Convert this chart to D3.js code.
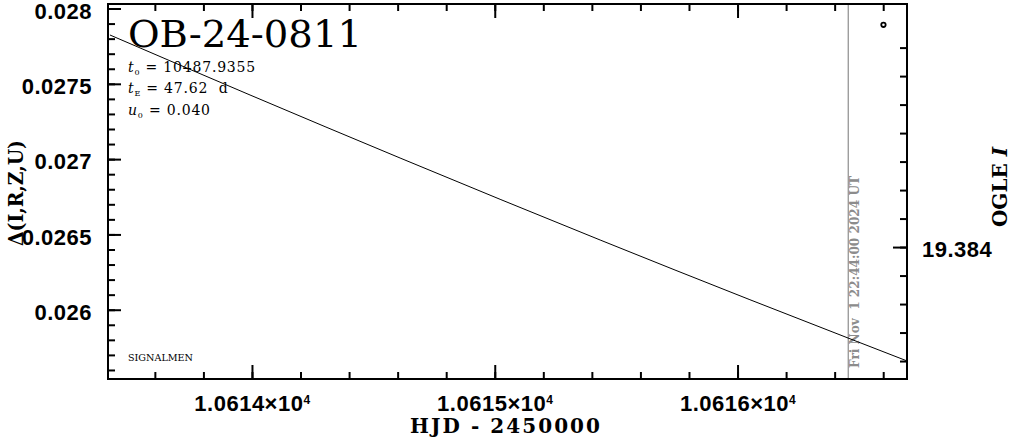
<!DOCTYPE html>
<html>
<head>
<meta charset="utf-8">
<script src="https://cdn.jsdelivr.net/npm/d3@7"></script>
<style>
  html, body { margin: 0; padding: 0; background: #fff; }
  svg { display: block; }
  .num { font-family: "Liberation Sans", Arial, sans-serif; font-weight: bold; font-size: 22px; letter-spacing: 0.5px; fill: #000; }
  .lab { font-family: "DejaVu Serif", serif; font-weight: bold; fill: #000; }
</style>
</head>
<body>
<svg id="chart" width="1011" height="437"></svg>
<script>
// ---- data ----
const title = "OB-24-0811";
const xLabel = "HJD - 2450000";
const yLabel = "Δ(I,R,Z,U)";
const y2Label = "OGLE ";
const y2LabelItalic = "I";
const params = [
  { sym: "t", sub: "0", text: " = 10487.9355" },
  { sym: "t", sub: "E", text: " = 47.62  d" },
  { sym: "u", sub: "0", text: " = 0.040" }
];
const footer = "SIGNALMEN";
const dateLabel = "Fri Nov  1 22:44:00 2024 UT";
const nowHJD = 10616.456;

// model curve (HJD-2450000, value)
const modelT = [10613.415, 10613.992, 10614.610, 10615.434, 10616.051, 10616.476, 10616.698];
const modelV = [0.0278242, 0.0274258, 0.0270074, 0.026463, 0.0260665, 0.025799, 0.02566];

// OGLE I data point (HJD-2450000, mag)
const obsT = [10616.601];
const obsMag = [19.3762];

// ticks
const xMajorTicks = [10614, 10615, 10616];
const xTickMantissa = ["1.0614", "1.0615", "1.0616"];
const xMinorTicks = d3.range(10613.6, 10616.61, 0.2).map(v => +v.toFixed(1));
const yMajorTicks = [0.026, 0.0265, 0.027, 0.0275, 0.028];
const yTickLabels = ["0.026", "0.0265", "0.027", "0.0275", "0.028"];
const yMinorTicks = d3.range(25.6, 28.01, 0.1).map(v => +(v / 1000).toFixed(4));
const y2MajorTicks = [19.384];
const y2TickLabels = ["19.384"];
const y2MinorTicks = d3.range(19377, 19388.5, 1).map(v => v / 1000);

// ---- layout ----
const L = 108, R = 907, T = 4, B = 379;
const svg = d3.select("#chart");

const x = d3.scaleLinear().domain([10613.407, 10616.698]).range([L, R]);
const y = d3.scaleLinear().domain([0.02554, 0.02803]).range([B, T]);
const y2 = d3.scaleLinear().domain([19.37547, 19.38863]).range([T, B]);

// clip
svg.append("defs").append("clipPath").attr("id", "clip")
  .append("rect").attr("x", L).attr("y", T).attr("width", R - L).attr("height", B - T);

// "now" vertical line
svg.append("line")
  .attr("x1", x(nowHJD)).attr("x2", x(nowHJD))
  .attr("y1", T).attr("y2", B)
  .attr("stroke", "#8c8c8c").attr("stroke-width", 1.2);

svg.append("text")
  .attr("class", "lab")
  .attr("transform", `translate(${x(nowHJD) + 11},368) rotate(-90)`)
  .attr("font-size", 12)
  .attr("textLength", 192).attr("lengthAdjust", "spacingAndGlyphs")
  .attr("xml:space", "preserve")
  .style("white-space", "pre")
  .attr("fill", "#8c8c8c")
  .style("fill", "#8c8c8c")
  .text(dateLabel);

// model line
const line = d3.line().x(d => x(d[0])).y(d => y(d[1])).curve(d3.curveMonotoneX);
svg.append("path")
  .datum(modelT.map((t, i) => [t, modelV[i]]))
  .attr("clip-path", "url(#clip)")
  .attr("fill", "none").attr("stroke", "#000").attr("stroke-width", 1)
  .attr("d", line);

// data point
svg.selectAll("circle.obs").data(obsT.map((t, i) => [t, obsMag[i]])).enter()
  .append("circle").attr("class", "obs")
  .attr("cx", d => x(d[0])).attr("cy", d => y2(d[1]))
  .attr("r", 2.2).attr("fill", "none").attr("stroke", "#000").attr("stroke-width", 1.8);

// ---- axes ----
function ticksOnly(g) { g.select(".domain").remove(); g.selectAll("text").remove(); g.selectAll("line").attr("stroke", "#000").attr("stroke-width", 2); }

// bottom
svg.append("g").attr("transform", `translate(0,${B})`)
  .call(d3.axisBottom(x).tickValues(xMinorTicks).tickSize(-7)).call(ticksOnly);
const gb = svg.append("g").attr("transform", `translate(0,${B})`)
  .call(d3.axisBottom(x).tickValues(xMajorTicks).tickSize(-14).tickFormat(""));
gb.select(".domain").remove();
gb.selectAll("line").attr("stroke", "#000").attr("stroke-width", 2);
gb.selectAll(".tick text").remove();
gb.selectAll(".tick").each(function(d, i) {
  const t = d3.select(this).append("text")
    .attr("class", "num").attr("text-anchor", "middle")
    .attr("y", 32).attr("fill", "#000");
  t.append("tspan").text(xTickMantissa[i] + "×10");
  t.append("tspan").attr("dy", -7).attr("font-size", 12).text("4");
});

// top
svg.append("g").attr("transform", `translate(0,${T})`)
  .call(d3.axisTop(x).tickValues(xMinorTicks).tickSize(-7)).call(ticksOnly);
svg.append("g").attr("transform", `translate(0,${T})`)
  .call(d3.axisTop(x).tickValues(xMajorTicks).tickSize(-14)).call(ticksOnly);

// left
svg.append("g").attr("transform", `translate(${L},0)`)
  .call(d3.axisLeft(y).tickValues(yMinorTicks).tickSize(-7)).call(ticksOnly);
const gl = svg.append("g").attr("transform", `translate(${L},0)`)
  .call(d3.axisLeft(y).tickValues(yMajorTicks).tickSize(-13).tickPadding(16)
    .tickFormat((d, i) => yTickLabels[i]));
gl.select(".domain").remove();
gl.selectAll("line").attr("stroke", "#000").attr("stroke-width", 2);
gl.selectAll("text").attr("class", "num").attr("font-family", null).attr("font-size", null).attr("dy", "0.44em");

// right
svg.append("g").attr("transform", `translate(${R},0)`)
  .call(d3.axisRight(y2).tickValues(y2MinorTicks).tickSize(-7)).call(ticksOnly);
const gr = svg.append("g").attr("transform", `translate(${R},0)`)
  .call(d3.axisRight(y2).tickValues(y2MajorTicks).tickSize(-14).tickPadding(15)
    .tickFormat((d, i) => y2TickLabels[i]));
gr.select(".domain").remove();
gr.selectAll("line").attr("stroke", "#000").attr("stroke-width", 2);
gr.selectAll("text").attr("class", "num").attr("font-family", null).attr("font-size", null).attr("dy", "0.44em");

// frame
svg.append("rect").attr("x", L).attr("y", T).attr("width", R - L).attr("height", B - T)
  .attr("fill", "none").attr("stroke", "#000").attr("stroke-width", 2);

// ---- labels ----
svg.append("text").attr("class", "lab")
  .attr("x", 128).attr("y", 47)
  .attr("font-size", 37).attr("font-weight", "normal").style("font-weight", "normal")
  .attr("textLength", 234).attr("lengthAdjust", "spacingAndGlyphs")
  .text(title);

const baselines = [72, 93, 115];
params.forEach((p, i) => {
  const t = svg.append("text")
    .attr("x", 128).attr("y", baselines[i])
    .attr("font-family", "DejaVu Serif, serif").attr("font-size", 14)
    .attr("letter-spacing", "0.8px")
    .attr("xml:space", "preserve").style("white-space", "pre");
  t.append("tspan").attr("font-style", "italic").text(p.sym);
  t.append("tspan").attr("font-size", 8).attr("dy", 3).text(p.sub);
  t.append("tspan").attr("dy", -3).text(p.text);
});

svg.append("text")
  .attr("x", 128).attr("y", 361)
  .attr("font-family", "DejaVu Serif, serif").attr("font-size", 9)
  .attr("textLength", 65).attr("lengthAdjust", "spacingAndGlyphs")
  .text(footer);

svg.append("text").attr("class", "lab")
  .attr("x", 505).attr("y", 433).attr("text-anchor", "middle")
  .attr("font-size", 20)
  .attr("textLength", 190).attr("lengthAdjust", "spacing")
  .text(xLabel);

svg.append("text").attr("class", "lab")
  .attr("transform", "translate(23,193) rotate(-90)")
  .attr("text-anchor", "middle").attr("font-size", 20)
  .attr("textLength", 106).attr("lengthAdjust", "spacingAndGlyphs")
  .text(yLabel);

const t2 = svg.append("text").attr("class", "lab")
  .attr("transform", "translate(1007,187) rotate(-90)")
  .attr("text-anchor", "middle").attr("font-size", 20)
  .attr("xml:space", "preserve").style("white-space", "pre");
t2.append("tspan").text(y2Label);
t2.append("tspan").attr("font-style", "italic").text(y2LabelItalic);
</script>
</body>
</html>
